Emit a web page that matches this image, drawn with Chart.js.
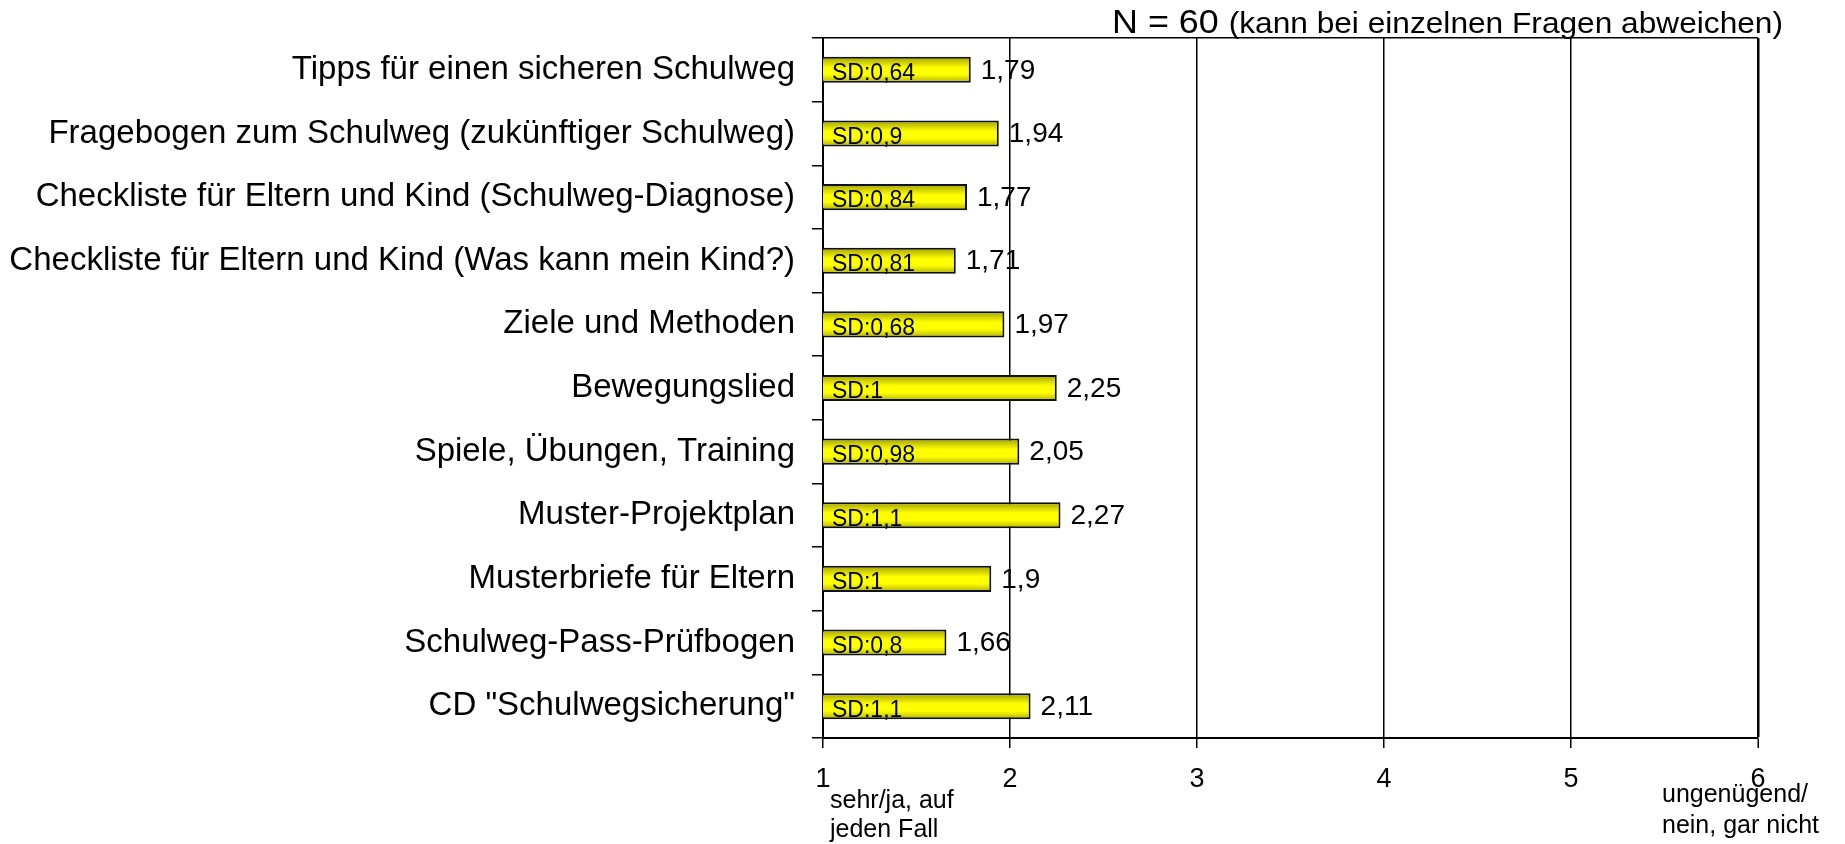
<!DOCTYPE html>
<html>
<head>
<meta charset="utf-8">
<title>Schulweg Bewertung</title>
<script src="https://cdn.jsdelivr.net/npm/chart.js@4/dist/chart.umd.min.js"></script>
<style>
    html, body { margin: 0; padding: 0; background: #fff; }
    #box { width: 1845px; height: 844px; position: relative; }
</style>
</head>
<body>
<div id="box"><canvas id="graficoBewertung"></canvas></div>
<script>
var kategorien = [
    'Tipps für einen sicheren Schulweg',
    'Fragebogen zum Schulweg (zukünftiger Schulweg)',
    'Checkliste für Eltern und Kind (Schulweg-Diagnose)',
    'Checkliste für Eltern und Kind (Was kann mein Kind?)',
    'Ziele und Methoden',
    'Bewegungslied',
    'Spiele, Übungen, Training',
    'Muster-Projektplan',
    'Musterbriefe für Eltern',
    'Schulweg-Pass-Prüfbogen',
    'CD "Schulwegsicherung"'
];
var mittelwerte = [1.79, 1.94, 1.77, 1.71, 1.97, 2.25, 2.05, 2.27, 1.9, 1.66, 2.11];
var standardabweichungen = [0.64, 0.9, 0.84, 0.81, 0.68, 1, 0.98, 1.1, 1, 0.8, 1.1];
var skalaWerte = [1, 2, 3, 4, 5, 6];
var titelN = 'N = 60';
var titelZusatz = '(kann bei einzelnen Fragen abweichen)';
var textSkalaLinks = ['sehr/ja, auf', 'jeden Fall'];
var textSkalaRechts = ['ungenügend/', 'nein, gar nicht'];

var Schulweg = Schulweg || {};

Schulweg.GraficoBewertung = (function() {

    var SCHRIFT = '"Liberation Sans", Arial, sans-serif';
    var BALKEN_ANTEIL = 0.41;

    function GraficoBewertung() {
        this.ctx = document.getElementById('graficoBewertung').getContext('2d');
    }

    function komma(v) {
        return String(v).replace('.', ',');
    }

    // gelber Verlauf wie im Original (oben/unten etwas dunkler)
    function gelbVerlauf(c) {
        var y = c.chart.scales.y;
        if (!y || c.dataIndex === undefined) {
            return '#ffff00';
        }
        var mitte = y.getPixelForValue(c.dataIndex);
        var h = (y.height / kategorien.length) * BALKEN_ANTEIL;
        if (!isFinite(mitte) || !isFinite(h) || h <= 0) {
            return '#ffff00';
        }
        var g = c.chart.ctx.createLinearGradient(0, mitte - h / 2, 0, mitte + h / 2);
        g.addColorStop(0, '#a0a000');
        g.addColorStop(0.42, '#ffff00');
        g.addColorStop(0.68, '#ffff00');
        g.addColorStop(1, '#b0b000');
        return g;
    }

    var beschriftung = {
        id: 'beschriftung',
        afterDatasetsDraw: function(chart) {
            var ctx = chart.ctx;
            var meta = chart.getDatasetMeta(0);
            var start = chart.scales.x.getPixelForValue(skalaWerte[0]);
            ctx.save();
            ctx.fillStyle = '#000';
            ctx.textAlign = 'left';
            ctx.textBaseline = 'middle';
            meta.data.forEach(function(bar, i) {
                var p = bar.getProps(['x', 'y'], true);
                ctx.font = '28px ' + SCHRIFT;
                ctx.fillText(komma(mittelwerte[i]), p.x + 10, p.y + 1);
                ctx.font = '23px ' + SCHRIFT;
                ctx.fillText('SD:' + komma(standardabweichungen[i]), start + 9, p.y + 4);
            });
            ctx.restore();
        },
        afterDraw: function(chart) {
            var ctx = chart.ctx;
            var x = chart.scales.x;
            var unten = chart.chartArea.bottom;
            ctx.save();
            ctx.fillStyle = '#000';
            ctx.textBaseline = 'alphabetic';
            ctx.textAlign = 'left';

            // Titel
            var links = 1112, rechts = 1783, basis = 33;
            ctx.font = '34px ' + SCHRIFT;
            var wN = ctx.measureText(titelN + ' ').width;
            ctx.font = '30px ' + SCHRIFT;
            var wZ = ctx.measureText(titelZusatz).width;
            var f = (rechts - links) / (wN + wZ);
            ctx.translate(links, basis);
            ctx.scale(f, 1);
            ctx.font = '34px ' + SCHRIFT;
            ctx.fillText(titelN + ' ', 0, 0);
            ctx.font = '30px ' + SCHRIFT;
            ctx.fillText(titelZusatz, wN, 0);
            ctx.setTransform(1, 0, 0, 1, 0, 0);

            // Skalenbeschriftung unten
            ctx.font = '25px ' + SCHRIFT;
            var xl = x.getPixelForValue(skalaWerte[0]) + 7;
            ctx.fillText(textSkalaLinks[0], xl, unten + 70);
            ctx.fillText(textSkalaLinks[1], xl, unten + 99);
            var xr = x.getPixelForValue(skalaWerte[skalaWerte.length - 1]) - 96;
            ctx.fillText(textSkalaRechts[0], xr, unten + 64);
            ctx.fillText(textSkalaRechts[1], xr, unten + 95);
            ctx.restore();
        }
    };

    GraficoBewertung.prototype.iniciar = function() {
        new Chart(this.ctx, {
            type: 'bar',
            data: {
                labels: kategorien,
                datasets: [{
                    data: mittelwerte,
                    backgroundColor: gelbVerlauf,
                    borderColor: '#111',
                    borderWidth: 2,
                    borderSkipped: false,
                    categoryPercentage: 1,
                    barPercentage: BALKEN_ANTEIL
                }]
            },
            options: {
                indexAxis: 'y',
                responsive: true,
                maintainAspectRatio: false,
                animation: false,
                devicePixelRatio: 1,
                layout: { padding: { top: 38, right: 87, bottom: 0, left: 0 } },
                plugins: {
                    legend: { display: false },
                    tooltip: { enabled: false },
                    title: { display: false }
                },
                scales: {
                    x: {
                        type: 'linear',
                        min: skalaWerte[0],
                        max: skalaWerte[skalaWerte.length - 1],
                        z: 1,
                        afterBuildTicks: function(s) {
                            s.ticks = skalaWerte.map(function(v) { return { value: v }; });
                        },
                        afterFit: function(s) { s.height = 106; },
                        border: { color: '#000', width: 2 },
                        grid: {
                            color: '#000',
                            lineWidth: function(c) { return c.index === skalaWerte.length - 1 ? 2.5 : 1.5; },
                            tickLength: 10,
                            tickColor: '#000',
                            tickWidth: 1.5
                        },
                        ticks: {
                            color: '#000',
                            padding: 15,
                            maxRotation: 0,
                            font: { family: SCHRIFT, size: 27 }
                        }
                    },
                    y: {
                        type: 'category',
                        offset: true,
                        afterFit: function(s) { s.width = 823; },
                        border: { color: '#000', width: 2 },
                        grid: {
                            offset: true,
                            color: function(c) { return c.index === 0 ? '#000' : 'rgba(0,0,0,0)'; },
                            lineWidth: 1.5,
                            tickLength: 11,
                            tickColor: '#000',
                            tickWidth: 1.5
                        },
                        ticks: {
                            color: '#000',
                            padding: 17,
                            autoSkip: false,
                            font: { family: SCHRIFT, size: 33 }
                        }
                    }
                }
            },
            plugins: [beschriftung]
        });
    };

    return GraficoBewertung;

}());

window.addEventListener('load', function() {
    var graficoBewertung = new Schulweg.GraficoBewertung();
    graficoBewertung.iniciar();
});
</script>
</body>
</html>
